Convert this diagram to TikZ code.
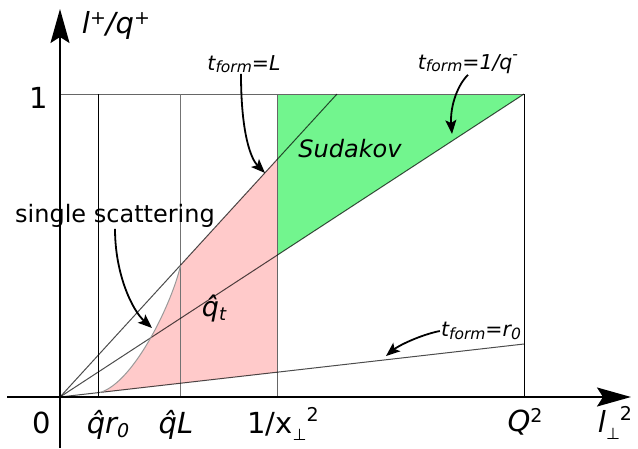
\documentclass[tikz,border=0pt]{standalone}
\usepackage{fontspec}
\setmainfont{DejaVu Sans}
\usepackage{xcolor}
\usetikzlibrary{arrows.meta}

\definecolor{pinkreg}{RGB}{255,202,202}
\definecolor{greenreg}{RGB}{114,245,142}
% small raised / lowered text
\newcommand\lo[3][0.3ex]{\raisebox{-#1}{\fontsize{#2}{#2}\selectfont #3}}
\newcommand\hi[3][0.55ex]{\raisebox{#1}{\fontsize{#2}{#2}\selectfont #3}}

\begin{document}
\begin{tikzpicture}[
  x=1pt,y=-1pt,
  thinline/.style={line width=1pt},
  fromorigin/.style={line width=1pt,black,opacity=0.7},
  axis/.style={line width=1.7pt,-{Stealth[length=34pt,width=19pt,inset=6pt]}},
  note/.style={line width=1.8pt,-{Stealth[length=14pt,width=11pt,inset=3pt]}},
  lab/.style={inner sep=1pt,anchor=base,font=\fontsize{29}{32}\selectfont},
  ann/.style={inner sep=1pt,font=\fontsize{20.5}{24}\selectfont\itshape}
]
\useasboundingbox (0,0) rectangle (638,448);
\coordinate (O) at (60,397);
\coordinate (topL) at (337,94);
\coordinate (topR) at (524,94);
\coordinate (endr) at (524,344);
% shaded regions
\fill[pinkreg] (100,392.5) -- (277,372.2) -- (277,159.6) -- (180.5,265.5)
  .. controls (173,300) and (135,382) .. (100,392.5) -- cycle;
\fill[greenreg] (277,94) -- (topR) -- (277,255.3) -- cycle;
% grid lines
\draw[thinline,black!60] (60,94) -- (topR);
\draw[thinline] (98,94) -- (98,397);
\draw[thinline,black!55] (180.5,94) -- (180.5,397);
\draw[thinline,black!60] (277,94) -- (277,397);
\draw[thinline] (topR) -- (524,397);
\draw[fromorigin] (O) -- (topL);
\draw[fromorigin] (O) -- (topR);
\draw[fromorigin] (O) -- (endr);
\draw[thinline,black!40] (100,392.5) .. controls (135,382) and (173,300) .. (180.5,265.5);
% axes
\draw[axis] (60,448) -- (60,9);
\draw[axis] (7,397) -- (631,397);
% axis labels
\node[lab] (ylab) at (116,33) {\itshape l\hi{19}{+}/q\hi{19}{+}};
\node[lab] (one) at (39,108) {1};
\node[lab] (zero) at (42,433) {0};
\node[lab] (qr0) at (108,433) {\itshape \^{q}r\lo{19}{0}};
\node[lab] (qL) at (176,433) {\itshape \^{q}L};
\node[lab] (xinv) at (283,433) {1/x\lo[0.45ex]{16}{⊥}\hi[0.7ex]{19}{2}};
\node[lab] (Qsq) at (525,431) {\itshape Q\hi{19}{\upshape 2}};
\node[lab] (xlab) at (615,432) {\itshape l\lo[0.45ex]{16}{\upshape ⊥}\hi[0.7ex]{19}{\upshape 2}};
% region labels
\node[inner sep=1pt,font=\fontsize{24}{28}\selectfont\itshape] (sud) at (350,149) {Sudakov};
\node[inner sep=1pt,font=\fontsize{24}{28}\selectfont] (single) at (115,216) {single scattering};
\node[inner sep=1pt,font=\fontsize{27}{30}\selectfont\itshape] (qt) at (214,308) {\^{q}\lo{18}{t}};
\node[ann] (tL) at (244,64) {t\lo[0.2ex]{15.5}{form}=L};
\node[ann] (tq) at (468,64) {t\lo[0.2ex]{15.5}{form}=1/q\hi[0.85ex]{15.5}{-}};
\node[ann] (tr0) at (481,331) {t\lo[0.2ex]{15.5}{form}=r\lo[0.2ex]{15.5}{0}};
% pointers
\coordinate (pL) at (265,173);
\coordinate (pq) at (452,134);
\coordinate (ps) at (152,328);
\coordinate (pr) at (386,356);
\draw[note] ([xshift=-3pt]tL.south) .. controls +(0,60) and +(-14,-14) .. (pL);
\draw[note] (tq.south) .. controls +(-12,12) and +(-2,-25) .. (pq);
\draw[note] (single.south) .. controls +(0,45) and +(-20,-18) .. (ps);
\draw[note] (tr0.west) .. controls +(-20,4) and +(12,-10) .. (pr);
\end{tikzpicture}
\end{document}
